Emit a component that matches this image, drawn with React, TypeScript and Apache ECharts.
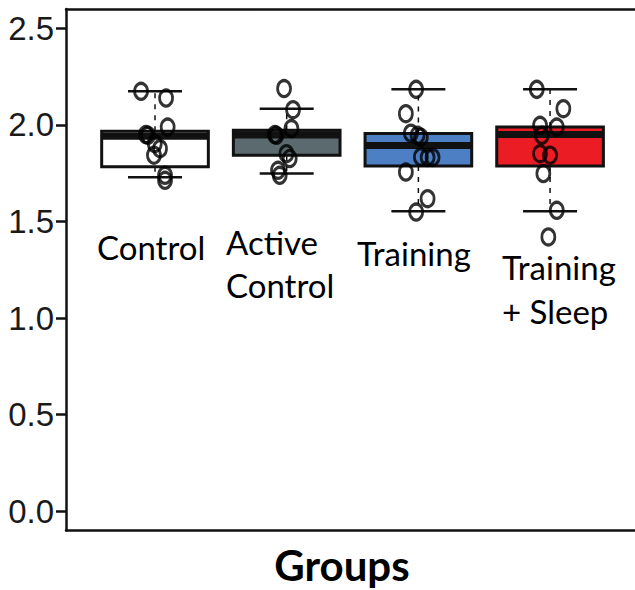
import React, { useEffect, useRef } from 'react';
import * as echarts from 'echarts';

// ---- data ----
const categories = ['Control', 'Active Control', 'Training', 'Training + Sleep'];
const boxMin = [1.729, 1.748, 1.553, 1.553];
const boxQ1 = [1.784, 1.843, 1.787, 1.787];
const boxMedian = [1.941, 1.948, 1.894, 1.951];
const boxQ3 = [1.967, 1.972, 1.955, 1.989];
const boxMax = [2.174, 2.084, 2.184, 2.184];

const pointsControl = [2.174, 2.139, 1.989, 1.946, 1.95, 1.903, 1.877, 1.843, 1.739, 1.713];
const jitterControl = [-0.106, 0.084, 0.096, -0.053, -0.07, -0.002, 0.038, -0.008, 0.076, 0.076];
const pointsActive = [2.188, 2.079, 1.981, 1.946, 1.95, 1.851, 1.826, 1.765, 1.739];
const jitterActive = [-0.02, 0.048, 0.036, -0.078, -0.09, -0.002, 0.023, -0.066, -0.053];
const pointsTraining = [2.184, 2.058, 1.957, 1.946, 1.936, 1.834, 1.832, 1.832, 1.756, 1.618, 1.549];
const jitterTraining = [-0.017, -0.095, -0.057, -0.006, 0.019, 0.019, 0.07, 0.108, -0.095, 0.07, -0.017];
const pointsSleep = [2.184, 2.084, 1.998, 1.989, 1.946, 1.851, 1.843, 1.748, 1.558, 1.42];
const jitterSleep = [-0.101, 0.101, -0.076, 0.051, -0.063, -0.076, 0.0, -0.051, 0.051, -0.013];

const yTicks = [0, 0.5, 1.0, 1.5, 2.0, 2.5];

// label annotations (text lines per category)
const labelLines = [['Control'], ['Active', 'Control'], ['Training'], ['Training', '+ Sleep']];

// ---- styles ----
const BOX_COLORS = ['#ffffff', '#5b6a6e', '#4d7fc4', '#ec1c24'];
const BOX_W = 0.81;
const CAP_W = 0.41;
const X_MIN = -0.676;
const X_MAX = 3.721;

export default function App() {
  const ref = useRef<HTMLDivElement>(null);

  useEffect(() => {
    document.body.style.margin = '0';
    document.body.style.overflow = 'hidden';
    if (!ref.current) return;
    const chart = echarts.init(ref.current, undefined, { renderer: 'svg' });

    const boxData = categories.map((_, i) => [i, boxMin[i], boxQ1[i], boxMedian[i], boxQ3[i], boxMax[i]]);
    const groups = [
      [pointsControl, jitterControl],
      [pointsActive, jitterActive],
      [pointsTraining, jitterTraining],
      [pointsSleep, jitterSleep],
    ];
    const scatterData: number[][] = [];
    groups.forEach(([vals, jit], i) => {
      vals.forEach((v, k) => scatterData.push([i + jit[k], v]));
    });

    const labelPos = [
      { x: 97, y: [247] },
      { x: 226, y: [242, 285] },
      { x: 357, y: [253] },
      { x: 502, y: [267, 311] },
    ];
    const labelGraphics: any[] = [
      // keep the right side of the plot open, as in the cropped original
      { type: 'rect', z: 50, shape: { x: 630, y: 12, width: 10, height: 515 }, style: { fill: '#ffffff' } },
    ];
    labelLines.forEach((lines, i) => {
      lines.forEach((t, k) => {
        labelGraphics.push({
          type: 'text',
          x: labelPos[i].x,
          y: labelPos[i].y[k],
          z: 100,
          style: {
            text: t,
            fontSize: 33,
            fontFamily: 'Lato',
            fill: '#000',
            align: 'left',
            verticalAlign: 'middle',
          },
        });
      });
    });
    labelGraphics.push({
      type: 'text',
      x: 342,
      y: 565,
      z: 100,
      style: {
        text: 'Groups',
        fontSize: 42,
        fontWeight: 'bold',
        fontFamily: 'Lato',
        fill: '#000',
        align: 'center',
        verticalAlign: 'middle',
      },
    });

    const frameLine = { show: true, onZero: false, lineStyle: { color: '#111', width: 2.5 } };

    chart.setOption({
      animation: false,
      backgroundColor: '#ffffff',
      grid: {
        left: 66,
        right: -10,
        top: 9,
        bottom: 59.4,
        show: false,
        containLabel: false,
        outerBoundsMode: 'none',
      },
      xAxis: [
        {
          type: 'value',
          min: X_MIN,
          max: X_MAX,
          position: 'bottom',
          axisLine: frameLine,
          axisTick: { show: false },
          axisLabel: { show: false },
          splitLine: { show: false },
        },
        {
          type: 'value',
          min: X_MIN,
          max: X_MAX,
          position: 'top',
          axisLine: frameLine,
          axisTick: { show: false },
          axisLabel: { show: false },
          splitLine: { show: false },
        },
      ],
      yAxis: {
        type: 'value',
        min: -0.1,
        max: 2.6,
        position: 'left',
        axisLine: frameLine,
        axisTick: { show: true, customValues: yTicks, length: 10, lineStyle: { color: '#111', width: 2.5 } },
        axisLabel: {
          customValues: yTicks,
          formatter: (v: number) => v.toFixed(1),
          fontSize: 33,
          fontFamily: 'Liberation Sans',
          color: '#1a1a1a',
          margin: 12,
        },
        splitLine: { show: false },
      },
      graphic: labelGraphics,
      series: [
        {
          type: 'custom',
          data: boxData,
          xAxisIndex: 0,
          encode: { x: 0, y: [1, 2, 3, 4, 5] },
          z: 2,
          renderItem: (params: any, api: any) => {
            const idx = api.value(0);
            const pMin = api.coord([idx, api.value(1)]);
            const pQ1 = api.coord([idx, api.value(2)]);
            const pMed = api.coord([idx, api.value(3)]);
            const pQ3 = api.coord([idx, api.value(4)]);
            const pMax = api.coord([idx, api.value(5)]);
            const x = pMed[0];
            const hw = api.size([BOX_W, 0])[0] / 2;
            const ch = api.size([CAP_W, 0])[0] / 2;
            const stroke = '#111';
            return {
              type: 'group',
              children: [
                { type: 'line', shape: { x1: x, y1: pQ3[1], x2: x, y2: pMax[1] }, style: { stroke, lineWidth: 1.5, lineDash: [5, 6] } },
                { type: 'line', shape: { x1: x, y1: pQ1[1], x2: x, y2: pMin[1] }, style: { stroke, lineWidth: 1.5, lineDash: [5, 6] } },
                { type: 'line', shape: { x1: x - ch, y1: pMax[1], x2: x + ch, y2: pMax[1] }, style: { stroke, lineWidth: 2.5 } },
                { type: 'line', shape: { x1: x - ch, y1: pMin[1], x2: x + ch, y2: pMin[1] }, style: { stroke, lineWidth: 2.5 } },
                {
                  type: 'rect',
                  shape: { x: x - hw, y: pQ3[1], width: hw * 2, height: pQ1[1] - pQ3[1] },
                  style: { fill: BOX_COLORS[idx], stroke, lineWidth: 3 },
                },
                { type: 'line', shape: { x1: x - hw, y1: pMed[1], x2: x + hw, y2: pMed[1] }, style: { stroke, lineWidth: 7 } },
              ],
            };
          },
        },
        {
          type: 'scatter',
          data: scatterData,
          xAxisIndex: 0,
          z: 5,
          symbol: 'circle',
          symbolSize: [13, 16],
          itemStyle: { color: 'rgba(0,0,0,0)', borderColor: '#000', borderWidth: 3 },
        },
      ],
    });

    return () => chart.dispose();
  }, []);

  return <div ref={ref} style={{ width: 635, height: 590 }} />;
}
